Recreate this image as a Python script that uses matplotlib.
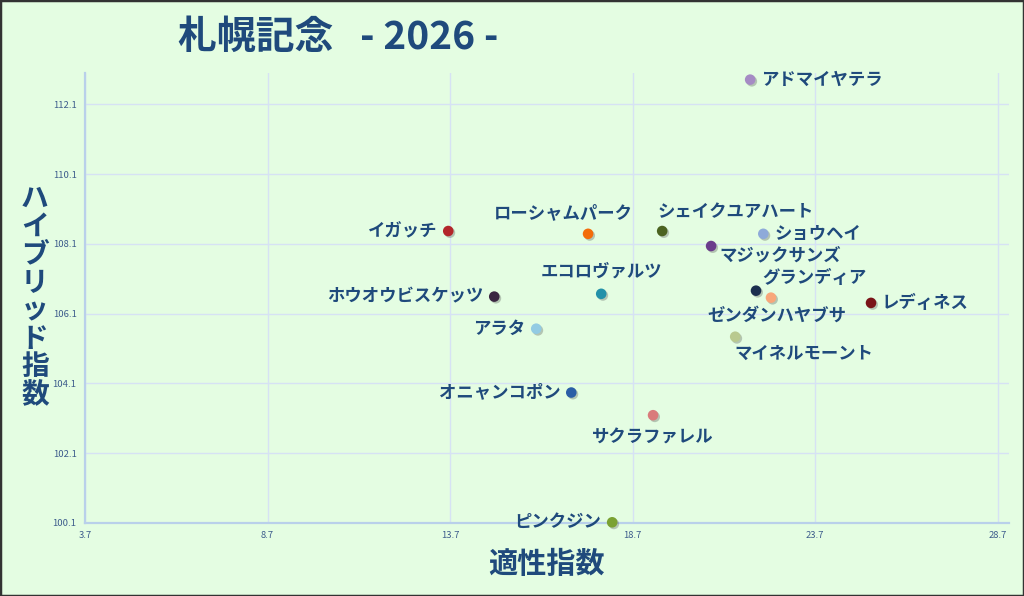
import matplotlib
matplotlib.use("Agg")
import matplotlib.pyplot as plt
import matplotlib.patheffects as pe
from matplotlib.patches import Rectangle

plt.rcParams["font.family"] = ["Noto Sans CJK JP", "DejaVu Sans"]

# data
horses = [
    "アドマイヤテラ", "イガッチ", "ローシャムパーク", "シェイクユアハート",
    "ショウヘイ", "マジックサンズ", "グランディア", "ゼンダンハヤブサ",
    "レディネス", "マイネルモーント", "ホウオウビスケッツ", "エコロヴァルツ",
    "アラタ", "オニャンコポン", "サクラファレル", "ピンクジン",
]
aptitude = [21.92, 13.65, 17.48, 19.51, 22.28, 20.85, 22.08, 22.49,
            25.23, 21.51, 14.91, 17.84, 16.06, 17.02, 19.26, 18.14]
hybrid = [112.81, 108.47, 108.39, 108.47, 108.39, 108.04, 106.76, 106.56,
          106.41, 105.44, 106.59, 106.67, 105.67, 103.84, 103.19, 100.12]
x_ticks = [3.7, 8.7, 13.7, 18.7, 23.7, 28.7]
y_ticks = [100.1, 102.1, 104.1, 106.1, 108.1, 110.1, 112.1]

colors = ["#a58bc4", "#b3262a", "#f36c0a", "#4b6320", "#8eaad9", "#6b3c8c",
          "#1b2f4f", "#f8a77a", "#7a1418", "#b9c98f", "#3b2742", "#2391a9",
          "#92cbe3", "#2b5ea6", "#d97b7b", "#7aa132"]

# label placement: (dx px, dy px, ha)
label_pos = {
    "アドマイヤテラ": (11, 0, "left"),
    "イガッチ": (-11, 0, "right"),
    "ローシャムパーク": (-25, 21, "center"),
    "シェイクユアハート": (-5, 19, "left"),
    "ショウヘイ": (11, 0, "left"),
    "マジックサンズ": (8, -9, "left"),
    "グランディア": (6, 13, "left"),
    "ゼンダンハヤブサ": (6, -18, "center"),
    "レディネス": (11, 0, "left"),
    "マイネルモーント": (-1, -17, "left"),
    "ホウオウビスケッツ": (-11, 0, "right"),
    "エコロヴァルツ": (0, 22, "center"),
    "アラタ": (-11, 0, "right"),
    "オニャンコポン": (-11, 0, "right"),
    "サクラファレル": (0, -22, "center"),
    "ピンクジン": (-11, 0, "right"),
}

BG = "#e4fde2"
TEXT = "#1f4a7c"

fig = plt.figure(figsize=(10.24, 5.96), dpi=100, facecolor=BG)
ax = fig.add_axes([0.083, 0.1225, 0.902, 0.755], facecolor=BG)

ax.scatter(aptitude, hybrid, s=58, c=colors, zorder=3, linewidths=0,
           clip_on=False,
           path_effects=[pe.SimplePatchShadow(offset=(1.2, -1.2), alpha=0.3,
                                              shadow_rgbFace="#444444"),
                         pe.Normal()])

for name, x, y in zip(horses, aptitude, hybrid):
    dx, dy, ha = label_pos[name]
    ax.annotate(name, (x, y), xytext=(dx, dy), textcoords="offset pixels",
                ha=ha, va="center", fontsize=12.5, fontweight="bold",
                color=TEXT, zorder=4)

ax.set_xlim(3.7, 29.0)
ax.set_ylim(100.1, 113.0)
ax.set_xticks(x_ticks)
ax.set_yticks(y_ticks)
ax.set_xticklabels([f"{v:.1f}" for v in x_ticks])
ax.set_yticklabels([f"{v:.1f}" for v in y_ticks])
ax.tick_params(length=0, labelsize=6.8, labelcolor="#3d5c8c", pad=6)
ax.grid(True, color="#d6e2f4", linewidth=1.0)
ax.set_axisbelow(True)
for side in ["top", "right"]:
    ax.spines[side].set_visible(False)
for side in ["left", "bottom"]:
    ax.spines[side].set_color("#b9d0ea")
    ax.spines[side].set_linewidth(1.6)

ax.set_xlabel("適性指数", fontsize=21, fontweight="bold", color=TEXT, labelpad=6)
fig.text(0.034, 0.502, "\n".join("ハイブリッド指数"), ha="center", va="center",
         fontsize=20, fontweight="bold", color=TEXT, linespacing=1.0)

fig.text(0.174, 0.938, "札幌記念   - 2026 -", ha="left", va="center",
         fontsize=28, fontweight="bold", color=TEXT)

fig.add_artist(Rectangle((0, 0), 1, 1, transform=fig.transFigure, fill=False,
                         edgecolor="#333333", linewidth=2.5))

fig.savefig("out.png", dpi=100, facecolor=BG)
